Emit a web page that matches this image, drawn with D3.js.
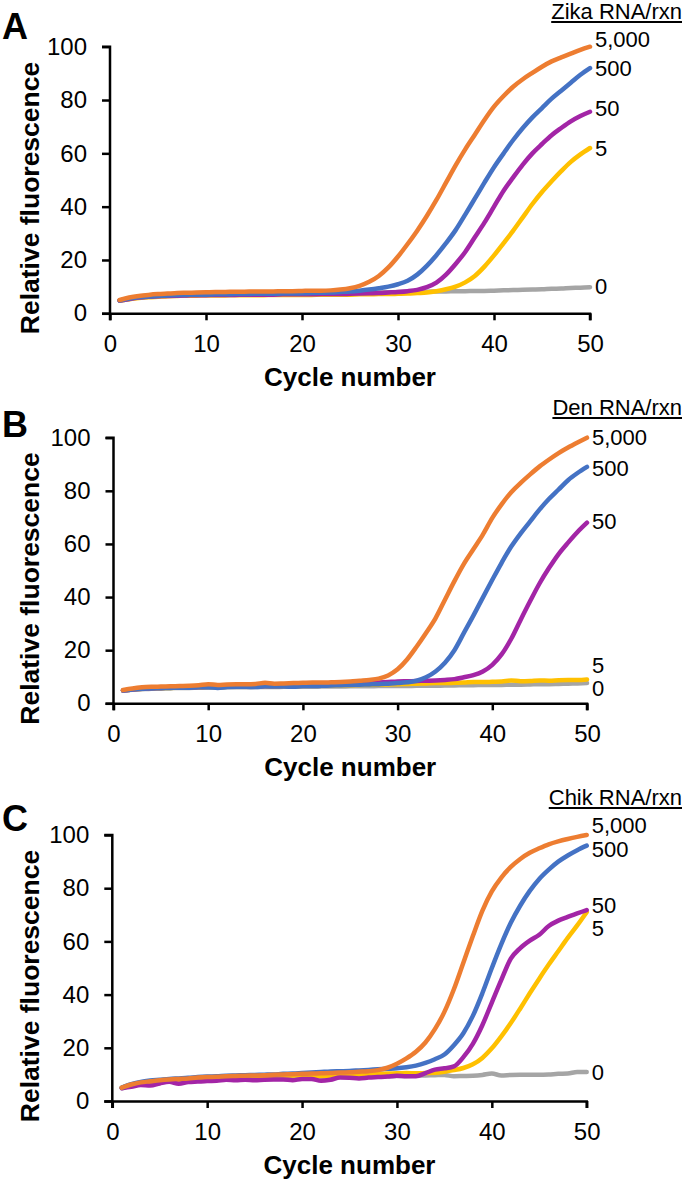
<!DOCTYPE html>
<html>
<head>
<meta charset="utf-8">
<script src="https://cdn.jsdelivr.net/npm/d3@7"></script>
<style>
  body { margin: 0; background: #fff; }
  svg { display: block; font-family: "Liberation Sans", Arial, sans-serif; }
</style>
</head>
<body>
<svg id="chart" width="685" height="1181"></svg>
<script>
const cycles = d3.range(1, 51)
const xTicks = [0, 10, 20, 30, 40, 50]
const yTicks = [0, 20, 40, 60, 80, 100]
const doseLabels = ['0', '5', '50', '500', '5,000']
const panelLetters = ['A', 'B', 'C']
const panelTitles = ['Zika RNA/rxn', 'Den RNA/rxn', 'Chik RNA/rxn']

// Zika
const zika0 = [4.8, 5.4, 5.9, 6.2, 6.4, 6.6, 6.7, 6.8, 6.9, 7.0, 7.0, 7.1, 7.1, 7.2, 7.2, 7.3, 7.3, 7.3, 7.4, 7.4, 7.5, 7.5, 7.6, 7.6, 7.7, 7.7, 7.8, 7.8, 7.9, 8.0, 8.0, 8.1, 8.1, 8.2, 8.2, 8.3, 8.3, 8.4, 8.4, 8.5, 8.6, 8.7, 8.8, 8.9, 9.0, 9.2, 9.3, 9.5, 9.6, 9.8]
const zika5 = [4.8, 5.3, 5.7, 6.0, 6.2, 6.4, 6.5, 6.6, 6.6, 6.7, 6.7, 6.7, 6.8, 6.8, 6.8, 6.8, 6.9, 6.9, 6.9, 6.9, 6.9, 7.0, 7.0, 7.0, 7.0, 7.1, 7.1, 7.2, 7.2, 7.3, 7.4, 7.6, 7.8, 8.3, 9.0, 10.0, 11.6, 14.0, 17.5, 21.7, 26.3, 31.0, 36.0, 41.0, 45.5, 49.5, 53.3, 56.8, 59.6, 62.0]
const zika50 = [4.8, 5.4, 5.9, 6.2, 6.4, 6.5, 6.6, 6.7, 6.8, 6.8, 6.9, 6.9, 6.9, 7.0, 7.0, 7.0, 7.0, 7.1, 7.1, 7.1, 7.1, 7.2, 7.2, 7.2, 7.3, 7.4, 7.5, 7.6, 7.8, 8.0, 8.3, 8.8, 9.8, 11.5, 14.5, 18.5, 23.0, 28.5, 34.0, 40.0, 46.0, 51.0, 55.8, 60.0, 63.5, 66.8, 69.5, 72.0, 74.0, 75.6]
const zika500 = [4.8, 5.5, 6.0, 6.3, 6.5, 6.7, 6.8, 6.9, 7.0, 7.0, 7.1, 7.1, 7.2, 7.2, 7.3, 7.3, 7.3, 7.4, 7.4, 7.5, 7.6, 7.7, 7.8, 8.0, 8.2, 8.5, 8.9, 9.4, 10.0, 10.9, 12.2, 14.5, 17.8, 21.8, 26.3, 31.2, 37.0, 43.0, 49.0, 54.8, 60.0, 65.0, 69.5, 73.5, 77.0, 80.5, 83.5, 86.5, 89.5, 92.0]
const zika5000 = [5.0, 5.9, 6.5, 6.9, 7.2, 7.4, 7.6, 7.7, 7.8, 7.9, 8.0, 8.0, 8.1, 8.1, 8.2, 8.2, 8.2, 8.3, 8.3, 8.4, 8.5, 8.5, 8.6, 8.9, 9.4, 10.3, 11.8, 14.0, 17.2, 21.3, 26.0, 31.0, 36.5, 42.5, 49.0, 55.5, 61.5, 67.0, 72.5, 77.5, 81.5, 85.0, 87.8, 90.2, 92.5, 94.5, 96.0, 97.4, 98.8, 100]

// Dengue
const den0 = [4.8, 5.1, 5.3, 5.5, 5.6, 5.7, 5.8, 5.8, 5.9, 5.9, 5.9, 6.0, 6.0, 6.0, 6.1, 6.1, 6.1, 6.2, 6.2, 6.2, 6.2, 6.3, 6.3, 6.3, 6.4, 6.4, 6.4, 6.5, 6.5, 6.5, 6.5, 6.6, 6.6, 6.6, 6.7, 6.7, 6.8, 6.8, 6.9, 6.9, 6.9, 7.0, 7.0, 7.1, 7.2, 7.2, 7.3, 7.4, 7.5, 7.6]
const den5 = [4.8, 5.2, 5.5, 5.6, 5.7, 5.8, 5.9, 6.0, 6.0, 6.2, 6.0, 6.2, 6.3, 6.3, 6.2, 6.5, 6.4, 6.5, 6.5, 6.6, 6.6, 6.7, 6.7, 6.8, 6.8, 6.9, 7.0, 7.0, 7.1, 7.2, 7.3, 7.4, 7.5, 7.6, 7.6, 7.7, 7.8, 8.0, 8.0, 8.1, 8.2, 8.6, 8.3, 8.4, 8.6, 8.5, 8.7, 8.8, 8.8, 9.0]
const den50 = [4.8, 5.2, 5.5, 5.7, 5.8, 5.9, 6.0, 6.0, 6.1, 6.2, 6.2, 6.3, 6.3, 6.4, 6.4, 6.5, 6.5, 6.6, 6.6, 6.7, 6.8, 6.9, 7.0, 7.1, 7.2, 7.4, 7.6, 7.8, 8.0, 8.2, 8.3, 8.4, 8.5, 8.6, 8.8, 9.1, 9.8, 10.6, 12.0, 14.5, 18.5, 24.3, 31.5, 38.5, 45.2, 51.0, 56.2, 60.5, 64.5, 68.0]
const den500 = [4.8, 5.2, 5.5, 5.6, 5.7, 5.8, 5.9, 5.9, 6.0, 6.0, 5.8, 6.1, 6.2, 6.2, 6.1, 6.4, 6.3, 6.3, 6.2, 6.5, 6.5, 6.6, 6.7, 6.8, 6.9, 7.0, 7.1, 7.2, 7.4, 7.6, 7.9, 8.5, 9.8, 12.0, 15.3, 20.0, 26.5, 33.0, 39.8, 46.5, 53.0, 59.0, 64.0, 68.5, 73.0, 77.0, 80.5, 84.0, 86.7, 89.0]
const den5000 = [5.0, 5.6, 6.0, 6.2, 6.3, 6.4, 6.5, 6.6, 6.8, 7.2, 6.9, 7.1, 7.2, 7.2, 7.3, 7.7, 7.4, 7.5, 7.6, 7.7, 7.8, 7.8, 7.9, 8.0, 8.2, 8.5, 8.8, 9.3, 10.5, 12.8, 16.5, 21.3, 26.5, 32.0, 39.0, 46.0, 52.5, 58.0, 63.5, 69.8, 75.0, 79.5, 83.0, 86.2, 89.2, 91.8, 94.2, 96.3, 98.2, 100]

// Chikungunya
const chik0 = [4.8, 5.8, 6.6, 7.0, 7.3, 7.6, 7.8, 8.0, 8.1, 8.2, 8.3, 8.4, 8.5, 8.5, 8.6, 8.7, 8.7, 8.8, 8.8, 8.9, 8.9, 9.0, 9.0, 9.1, 9.1, 9.2, 9.2, 9.3, 9.3, 9.4, 9.4, 9.5, 9.6, 9.7, 9.8, 9.3, 9.4, 9.5, 9.8, 10.3, 9.6, 9.8, 9.9, 9.9, 9.9, 10.0, 10.2, 10.3, 10.9, 10.9]
const chik5 = [5.0, 6.0, 6.8, 7.2, 7.6, 7.9, 8.1, 8.3, 8.5, 8.7, 8.8, 9.0, 9.1, 9.2, 9.3, 9.4, 9.5, 9.6, 9.6, 9.7, 9.5, 9.3, 9.6, 9.8, 9.9, 10.0, 10.1, 10.2, 10.3, 10.4, 10.5, 10.4, 10.5, 10.6, 11.0, 11.6, 12.4, 13.8, 16.2, 19.8, 24.3, 29.3, 34.8, 40.5, 46.0, 51.3, 56.3, 61.3, 66.0, 71.0]
const chik50 = [4.8, 5.3, 6.0, 5.8, 6.6, 7.2, 6.5, 7.1, 7.3, 7.5, 7.6, 8.0, 7.8, 8.0, 7.8, 8.0, 8.1, 8.1, 7.8, 8.3, 8.3, 7.6, 8.0, 8.8, 8.7, 8.5, 8.8, 9.0, 9.2, 9.5, 9.3, 9.3, 10.5, 11.8, 12.3, 13.0, 16.5, 21.5, 28.5, 37.0, 45.5, 53.5, 57.5, 60.3, 62.5, 65.8, 67.8, 69.2, 70.5, 71.8]
const chik500 = [5.0, 6.3, 7.2, 7.7, 8.0, 8.3, 8.5, 8.7, 9.0, 9.2, 9.3, 9.5, 9.6, 9.7, 9.8, 9.9, 10.0, 10.2, 10.3, 10.5, 10.7, 10.9, 11.1, 11.2, 11.3, 11.5, 11.7, 11.9, 12.1, 12.3, 12.7, 13.3, 14.3, 15.7, 17.5, 21.0, 25.5, 32.0, 40.5, 50.0, 59.0, 67.0, 73.5, 79.0, 83.5, 87.0, 90.0, 92.3, 94.3, 96.0]
const chik5000 = [5.0, 6.2, 7.0, 7.4, 7.8, 8.1, 8.3, 8.5, 8.8, 9.0, 9.1, 9.3, 9.4, 9.5, 9.6, 9.7, 9.9, 10.0, 10.1, 10.2, 10.3, 10.4, 10.5, 10.7, 10.8, 11.0, 11.2, 11.6, 12.5, 14.0, 16.0, 18.5, 22.0, 27.0, 33.5, 42.0, 52.0, 62.0, 71.5, 78.8, 84.0, 88.0, 91.0, 93.3, 95.0, 96.5, 97.6, 98.5, 99.3, 100]

const panelSeries = [
  [zika0, zika5, zika50, zika500, zika5000],
  [den0, den5, den50, den500, den5000],
  [chik0, chik5, chik50, chik500, chik5000]
]

// where the dose labels sit, in fluorescence units
const labelLevels = [
  [10.2, 62, 77, 92, 102.7],
  [5.7, 14.4, 68.4, 88.6, 100.3],
  [10.8, 64.9, 73.7, 94.6, 103.8]
]

const colors = ['#a5a5a5', '#ffc000', '#a325a6', '#4472c4', '#ed7d31']

// plot boxes
const boxes = [
  { left: 110, right: 590, top: 46.7, bottom: 313.3, letterY: 39, titleY: 19 },
  { left: 113.5, right: 587, top: 437.7, bottom: 703.3, letterY: 437, titleY: 415 },
  { left: 112.3, right: 586.7, top: 835, bottom: 1101, letterY: 831, titleY: 805 }
]

const svg = d3.select('#chart')

function drawPanel(i) {
  const box = boxes[i]
  const g = svg.append('g')

  const x = d3.scaleLinear().domain([0, 50]).range([box.left, box.right])
  const y = d3.scaleLinear().domain([0, 100]).range([box.bottom, box.top])

  // axes
  const xAxis = g.append('g')
    .attr('transform', `translate(0,${box.bottom})`)
    .call(d3.axisBottom(x).tickValues(xTicks).tickSize(7).tickPadding(15))
  const yAxis = g.append('g')
    .attr('transform', `translate(${box.left},0)`)
    .call(d3.axisLeft(y).tickValues(yTicks).tickSize(8).tickPadding(15))

  ;[xAxis, yAxis].forEach(a => {
    a.selectAll('path, line').attr('stroke', '#000').attr('stroke-width', 2.5)
    a.selectAll('text').attr('fill', '#000').style('font-size', '24px')
  })
  // extend the axis lines to the outer ticks
  xAxis.select('path').attr('d', `M${box.left - 8},0.5H${box.right}V7`)
  yAxis.select('path').attr('d', `M-8,${box.top}H0V${box.bottom + 7}`)

  // curves
  const line = d3.line()
    .x((d, k) => x(cycles[k]))
    .y(d => y(d))
    .curve(d3.curveMonotoneX)

  g.selectAll('path.curve')
    .data(panelSeries[i])
    .join('path')
    .attr('class', 'curve')
    .attr('d', line)
    .attr('fill', 'none')
    .attr('stroke', (d, k) => colors[k])
    .attr('stroke-width', 4.5)
    .attr('stroke-linejoin', 'round')
    .attr('stroke-linecap', 'round')

  // dose labels at the line ends
  g.selectAll('text.dose')
    .data(doseLabels)
    .join('text')
    .attr('class', 'dose')
    .attr('x', box.right + 5)
    .attr('y', (d, k) => y(labelLevels[i][k]))
    .attr('dy', '0.35em')
    .style('font-size', '22px')
    .text(d => d)

  // axis titles
  g.append('text')
    .attr('x', (box.left + box.right) / 2)
    .attr('y', box.bottom + 73)
    .attr('text-anchor', 'middle')
    .style('font-size', '26px')
    .style('font-weight', 'bold')
    .text('Cycle number')

  g.append('text')
    .attr('transform', `translate(39,${(box.top + box.bottom) / 2 + 18}) rotate(-90)`)
    .attr('text-anchor', 'middle')
    .style('font-size', '26.5px')
    .style('font-weight', 'bold')
    .text('Relative fluorescence')

  // panel letter
  g.append('text')
    .attr('x', 2)
    .attr('y', box.letterY)
    .style('font-size', '36px')
    .style('font-weight', 'bold')
    .text(panelLetters[i])

  // underlined legend title
  const title = g.append('text')
    .attr('x', 682)
    .attr('y', box.titleY)
    .attr('text-anchor', 'end')
    .style('font-size', '22px')
    .text(panelTitles[i])
  const w = title.node().getComputedTextLength()
  g.append('line')
    .attr('x1', 682 - w).attr('x2', 682)
    .attr('y1', box.titleY + 3).attr('y2', box.titleY + 3)
    .attr('stroke', '#000')
    .attr('stroke-width', 2)
}

panelSeries.forEach((s, i) => drawPanel(i))
</script>
</body>
</html>
